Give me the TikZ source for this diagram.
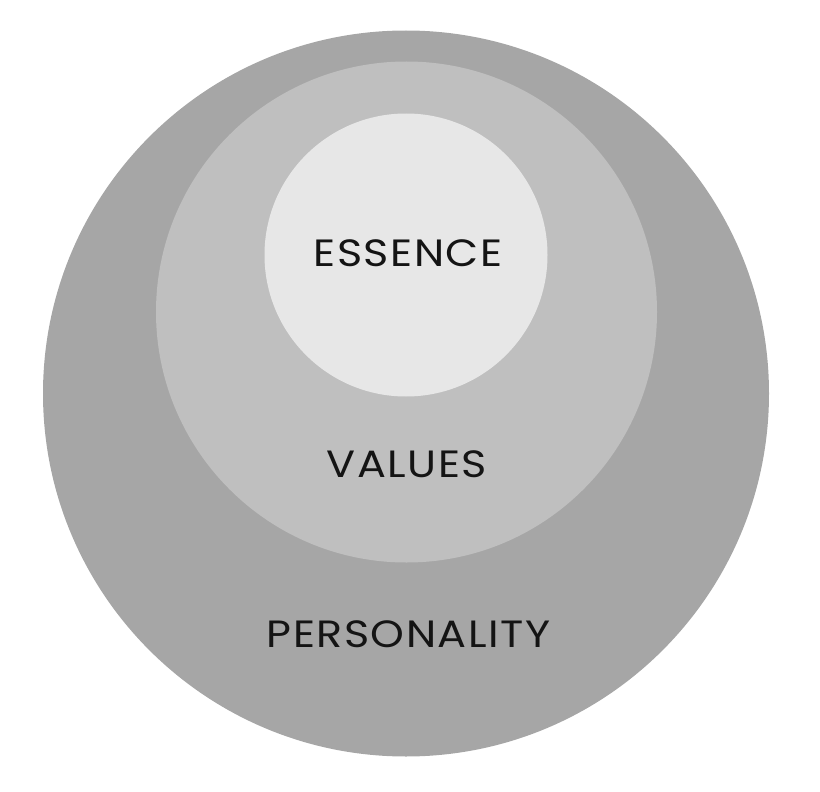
\documentclass[tikz,border=0pt]{standalone}
\usepackage{fontspec}
\setmainfont{Poppins}[LetterSpace=4, FakeStretch=1.13]
\usepackage{xcolor}
\usetikzlibrary{positioning}
\definecolor{OuterGray}{HTML}{A6A6A6}
\definecolor{MidGray}{HTML}{BFBFBF}
\definecolor{InnerGray}{HTML}{E7E7E7}
\definecolor{LabelText}{RGB}{20,20,20}

\begin{document}
\begin{tikzpicture}[x=1pt, y=-1pt,
    ring/.style={circle, draw=none, inner sep=0pt},
    lbl/.style={inner sep=0pt, font=\fontsize{38}{40}\selectfont, text=LabelText},
]
\useasboundingbox (0,0) rectangle (820,792);
\node[ring, fill=OuterGray, minimum size=726pt] (outer) at (406,393.5) {};
\node[ring, fill=MidGray, minimum size=501pt] (middle) at (406.5,312) {};
\node[ring, fill=InnerGray, minimum size=283pt] (inner) at (406,255) {};

\node[lbl] (essence) at (408,253) {ESSENCE};
\node[lbl] (values) at (407,464) {VALUES};
\node[lbl] (personality) at (408.5,634.5) {PERSONALITY};
\end{tikzpicture}
\end{document}
